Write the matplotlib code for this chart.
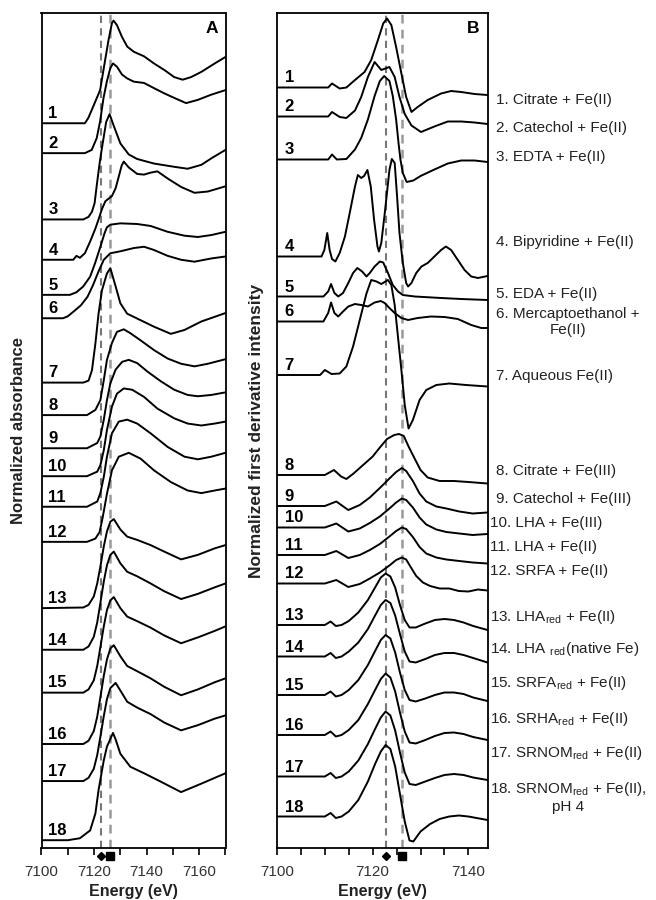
import matplotlib
matplotlib.use('Agg')
import matplotlib.pyplot as plt
from matplotlib.ticker import MultipleLocator

plt.rcParams['font.family'] = ['Liberation Sans', 'DejaVu Sans']
plt.rcParams['mathtext.fontset'] = 'custom'
plt.rcParams['mathtext.rm'] = 'Liberation Sans'
plt.rcParams['mathtext.it'] = 'Liberation Sans:italic'

# ---- panel A: normalized absorbance ----
A1_E = [7100, 7110, 7116.5, 7117.8, 7119.7, 7122.3, 7124.2, 7125.5, 7126.8, 7127.4, 7128.7, 7130.6,
        7132.6, 7135.1, 7139, 7142.8, 7146.7, 7150.5, 7153.7, 7156.9, 7160.8, 7165.9, 7170]
A1_Y = [0, 0, 0, 0.08, 0.26, 0.51, 0.97, 1.28, 1.54, 1.58, 1.51, 1.33,
        1.18, 1.10, 1.03, 0.92, 0.82, 0.71, 0.67, 0.71, 0.79, 0.92, 1.02]
A2_E = [7100, 7110, 7116.5, 7119.1, 7121, 7122.3, 7123.6, 7124.9, 7126.2, 7127.2, 7128.7, 7130.6,
        7132.6, 7135.1, 7139, 7142.8, 7146.7, 7150.5, 7155, 7159.5, 7164.6, 7170]
A2_Y = [0, 0, 0, 0.05, 0.23, 0.49, 0.85, 1.11, 1.31, 1.38, 1.33, 1.21,
        1.15, 1.10, 1.08, 1.00, 0.92, 0.85, 0.77, 0.82, 0.90, 0.97]
A3_E = [7100, 7110, 7115.9, 7117.9, 7119.2, 7120.2, 7121.1, 7122.1, 7122.8, 7123.6, 7124.6, 7125.9,
        7127.4, 7130, 7133.2, 7136.4, 7142.8, 7150.5, 7155.6, 7160.8, 7165, 7170]
A3_Y = [0, 0, 0, 0.04, 0.12, 0.25, 0.55, 0.86, 1.05, 1.25, 1.5, 1.62,
        1.45, 1.17, 1.0, 0.93, 0.86, 0.81, 0.78, 0.84, 0.95, 1.07]
A4_E = [7100, 7112.1, 7113.3, 7114.6, 7116.5, 7118.5, 7120.5, 7121.7, 7123, 7124.3, 7124.9, 7126.8,
        7128.2, 7129.4, 7130.5, 7131.3, 7133.2, 7136.4, 7139, 7141.5, 7144.1, 7148, 7153.1, 7158.2,
        7163.3, 7170]
A4_Y = [0, 0, 0.06, 0.03, 0.1, 0.28, 0.48, 0.62, 0.78, 0.9, 0.92, 0.98,
        1.1, 1.28, 1.45, 1.51, 1.42, 1.32, 1.31, 1.34, 1.36, 1.25, 1.12, 1.03,
        1.05, 1.13]
A5_E = [7100, 7110.8, 7113.3, 7115.9, 7118.5, 7120.4, 7122.4, 7124, 7124.9, 7126.2, 7130, 7136.4,
        7141.5, 7148, 7154.4, 7159.5, 7164.6, 7170]
A5_Y = [0, 0, 0.04, 0.13, 0.28, 0.49, 0.74, 0.95, 1.04, 1.08, 1.1, 1.09,
        1.06, 0.97, 0.91, 0.89, 0.92, 0.97]
A6_E = [7100, 7108.2, 7110, 7111.5, 7113, 7115, 7117.5, 7119.5, 7121.7, 7123.7, 7126.2, 7130,
        7135.1, 7139, 7142.8, 7148, 7153.1, 7158.2, 7164.6, 7170]
A6_Y = [0, 0, 0.03, 0.08, 0.13, 0.2, 0.33, 0.5, 0.72, 0.9, 1.0, 1.03,
        1.08, 1.10, 1.05, 0.96, 0.9, 0.87, 0.92, 0.95]
A7_E = [7100, 7115.9, 7117.9, 7119.2, 7120.5, 7121.7, 7123, 7124.9, 7126.2, 7127.2, 7128.2, 7130,
        7132.6, 7137.7, 7142.8, 7149.2, 7154.4, 7160.8, 7170]
A7_Y = [0, 0, 0.03, 0.19, 0.6, 1.06, 1.42, 1.68, 1.76, 1.62, 1.48, 1.22,
        1.06, 0.96, 0.86, 0.75, 0.81, 0.94, 1.07]
A8_E = [7100, 7117.3, 7120.5, 7122.4, 7123.7, 7124.9, 7126.8, 7128.7, 7131.3, 7133.8, 7137.7, 7142.8,
        7148, 7153.1, 7158.2, 7163.3, 7170]
A8_Y = [0, 0, 0.08, 0.23, 0.54, 0.85, 1.11, 1.28, 1.32, 1.26, 1.15, 1.0,
        0.87, 0.79, 0.75, 0.79, 0.86]
A9_E = [7100, 7117.3, 7121.2, 7122.4, 7123.7, 7124.9, 7126.2, 7128.2, 7130.7, 7133.2, 7136.4, 7140.3,
        7145.4, 7150.5, 7155.6, 7159.5, 7164.6, 7170]
A9_Y = [0, 0, 0.08, 0.18, 0.44, 0.74, 1.0, 1.21, 1.33, 1.36, 1.31, 1.18,
        1.03, 0.90, 0.82, 0.80, 0.82, 0.86]
A10_E = [7100, 7117.3, 7121.2, 7122.4, 7123.7, 7124.9, 7126.8, 7128.7, 7131.3, 7134.5, 7139, 7144.1,
         7150.5, 7155.6, 7160.8, 7165.9, 7170]
A10_Y = [0, 0, 0.07, 0.17, 0.4, 0.71, 1.07, 1.27, 1.35, 1.33, 1.22, 1.04,
         0.89, 0.81, 0.78, 0.81, 0.84]
A11_E = [7100, 7117.3, 7121.2, 7122.4, 7123.7, 7124.9, 7126.8, 7129.4, 7132.6, 7136.4, 7141.5, 7148,
         7154.4, 7159.5, 7164.6, 7170]
A11_Y = [0, 0, 0.08, 0.21, 0.46, 0.77, 1.13, 1.31, 1.34, 1.28, 1.13, 0.92,
         0.77, 0.73, 0.77, 0.83]
A12_E = [7100, 7117.3, 7120.5, 7122.1, 7123.3, 7124.9, 7126.8, 7129.4, 7133.2, 7137.7, 7142.8, 7149.2,
         7155.6, 7160.8, 7165.9, 7170]
A12_Y = [0, 0, 0.05, 0.15, 0.38, 0.74, 1.10, 1.31, 1.37, 1.28, 1.10, 0.92,
         0.79, 0.75, 0.79, 0.82]
A13_E = [7100, 7115.9, 7117.9, 7119.9, 7121.2, 7122.4, 7123.7, 7124.9, 7126.2, 7127.5, 7130, 7132.6,
         7136.4, 7141.5, 7146.7, 7153.1, 7159.5, 7165.9, 7170]
A13_Y = [0, 0.01, 0.05, 0.18, 0.38, 0.64, 0.95, 1.18, 1.33, 1.37, 1.21, 1.10,
         1.05, 0.97, 0.87, 0.75, 0.82, 0.92, 0.97]
A14_E = A13_E
A14_Y = [0, 0, 0.05, 0.2, 0.42, 0.72, 1.05, 1.3, 1.46, 1.51, 1.33, 1.2,
         1.13, 1.02, 0.9, 0.78, 0.86, 0.96, 1.02]
A15_E = A13_E
A15_Y = [0, 0, 0.05, 0.19, 0.41, 0.7, 1.02, 1.27, 1.42, 1.47, 1.3, 1.17,
         1.1, 1.0, 0.88, 0.76, 0.85, 0.95, 1.02]
A16_E = A13_E
A16_Y = [0, 0, 0.05, 0.2, 0.42, 0.72, 1.05, 1.3, 1.47, 1.52, 1.35, 1.2,
         1.12, 1.01, 0.88, 0.75, 0.84, 0.95, 1.01]
A17_E = [7100, 7115.9, 7117.9, 7119.9, 7121.2, 7122.4, 7123.7, 7124.9, 7126.2, 7128.2, 7130.5, 7132.6,
         7136.4, 7141.5, 7146.7, 7153.1, 7159.5, 7165.9, 7170]
A17_Y = [0, 0, 0.05, 0.19, 0.4, 0.68, 1.0, 1.26, 1.43, 1.51, 1.36, 1.22,
         1.13, 1.03, 0.9, 0.78, 0.86, 0.96, 1.01]
A18_E = [7100, 7110, 7114.6, 7118.5, 7120.5, 7121.7, 7123.7, 7124.9, 7127.2, 7128.2, 7130, 7133.8,
         7139, 7145.4, 7153.1, 7160.8, 7170]
A18_Y = [0, 0, 0.03, 0.15, 0.41, 0.77, 1.23, 1.44, 1.65, 1.55, 1.33, 1.13,
         1.03, 0.9, 0.74, 0.87, 1.03]

# stacking offsets (absorbance units)
abs_offset = [11.15, 10.69, 9.67, 9.05, 8.51, 8.15, 7.16, 6.66, 6.15, 5.72, 5.25, 4.71,
              3.69, 3.05, 2.39, 1.60, 1.03, 0.12]

# ---- panel B: normalized first derivative ----
B1_E = [7100, 7110.7, 7111.5, 7113.1, 7114.5, 7116.3, 7118.3, 7119.7, 7121.1, 7122.2, 7123, 7123.9,
        7124.9, 7126, 7127, 7128.1, 7129.4, 7131.5, 7134.3, 7136.4, 7138.5, 7141.3, 7144]
B1_Y = [0, 0, 0.08, -0.02, 0.0, 0.15, 0.31, 0.55, 0.95, 1.28, 1.38, 1.25,
        0.81, 0.28, -0.19, -0.49, -0.39, -0.25, -0.12, -0.07, -0.09, -0.13, -0.15]
B2_E = [7100, 7110.7, 7111.5, 7113.1, 7114.5, 7116.3, 7117.6, 7119, 7120.4, 7121.8, 7123.5, 7124.6,
        7125.6, 7126.7, 7128.1, 7130.1, 7132.9, 7135.7, 7138.5, 7141.3, 7144]
B2_Y = [0, 0, 0.09, -0.01, -0.03, 0.12, 0.39, 0.79, 1.09, 0.93, 0.99, 0.79,
        0.39, 0.05, -0.18, -0.31, -0.2, -0.1, -0.1, -0.12, -0.15]
B3_E = [7100, 7110.7, 7111.5, 7112.5, 7114.5, 7116.3, 7117.6, 7119, 7120.4, 7121.5, 7122.4, 7123.5,
        7124.2, 7124.9, 7125.4, 7125.8, 7126.3, 7127.1, 7128.5, 7130, 7132.9, 7135.7, 7138.5, 7141.3, 7144]
B3_Y = [0, 0, 0.1, 0.0, 0.01, 0.2, 0.43, 0.8, 1.27, 1.57, 1.67, 1.57,
        1.27, 0.8, 0.33, 0.0, -0.27, -0.45, -0.42, -0.33, -0.2, -0.08, -0.02, -0.02, -0.05]
B4_E = [7100, 7109.3, 7109.9, 7110.5, 7111, 7111.5, 7112.2, 7113.1, 7114.2, 7115.2, 7116.3, 7116.9,
        7117.6, 7118.2, 7118.9, 7119.6, 7120.3, 7121, 7121.3, 7121.8, 7122.6, 7123.5, 7124, 7124.6,
        7125.1, 7125.6, 7126.3, 7127, 7127.4, 7128.1, 7129.1, 7130.2, 7131.5, 7132.9, 7134.3, 7135.3,
        7136.4, 7137.8, 7139.2, 7140.6, 7142, 7144]
B4_Y = [0, 0, 0.13, 0.47, 0.13, -0.05, -0.1, 0.07, 0.4, 0.87, 1.4, 1.63,
        1.57, 1.61, 1.73, 1.4, 0.73, 0.2, 0.1, 0.27, 0.93, 1.73, 1.95, 1.87,
        1.2, 0.47, -0.13, -0.53, -0.6, -0.53, -0.33, -0.2, -0.13, 0.0, 0.13, 0.2,
        0.13, -0.07, -0.27, -0.4, -0.43, -0.39]
B5_E = [7100, 7109.7, 7110.7, 7111.3, 7112, 7112.8, 7113.8, 7114.9, 7115.9, 7116.8, 7117.8, 7118.7,
        7119.4, 7120.4, 7121.5, 7122.2, 7123.2, 7124.2, 7125.3, 7126.3, 7128.8, 7134.3, 7138.5, 7144]
B5_Y = [0, 0, 0.1, 0.25, 0.07, 0, 0.07, 0.27, 0.47, 0.57, 0.5, 0.4,
        0.47, 0.6, 0.7, 0.68, 0.47, 0.23, 0.1, 0.03, 0, -0.03, -0.05, -0.07]
B6_E = [7100, 7109.7, 7110.7, 7111.3, 7112, 7112.8, 7113.8, 7114.9, 7116.3, 7117.6, 7119, 7120.4,
        7121.7, 7122.5, 7123.5, 7124.6, 7126, 7127.4, 7129.4, 7132.2, 7135, 7137.8, 7140.6, 7142.7, 7144]
B6_Y = [0, 0, 0.17, 0.38, 0.17, 0.1, 0.2, 0.3, 0.35, 0.33, 0.3, 0.38,
        0.41, 0.37, 0.27, 0.17, 0.07, 0.03, 0.07, 0.1, 0.09, 0.05, -0.07, -0.13, -0.13]
B7_E = [7100, 7109, 7110, 7111.4, 7113.1, 7114.5, 7115.9, 7117.3, 7118.7, 7119.7, 7120.8, 7121.8,
        7123.2, 7123.9, 7124.6, 7125.3, 7126, 7126.7, 7127.5, 7128.4, 7129.8, 7131.2, 7133.3, 7136,
        7139.5, 7144]
B7_Y = [0, 0, 0.1, 0.02, 0.03, 0.17, 0.57, 1.1, 1.63, 1.9, 1.87, 1.82,
        1.9, 1.8, 1.4, 0.75, 0.1, -0.6, -1.07, -0.9, -0.5, -0.3, -0.2, -0.17,
        -0.2, -0.23]
B8_E = [7100, 7110, 7111.9, 7113.4, 7114.5, 7116, 7118, 7120, 7121.5, 7123, 7124.5, 7125.5,
        7126.5, 7127.5, 7128.5, 7130, 7131.5, 7134, 7137, 7140, 7144]
B8_Y = [0, 0, 0.1, -0.03, -0.08, 0.03, 0.2, 0.37, 0.55, 0.72, 0.8, 0.82,
        0.78, 0.57, 0.38, 0.1, -0.05, -0.12, -0.12, -0.14, -0.17]
B9_E = [7100, 7110, 7112.4, 7114.9, 7117.3, 7119.4, 7121.5, 7123.5, 7124.9, 7126.1, 7127, 7128.4,
        7129.8, 7131.2, 7133.3, 7135.4, 7138.1, 7140.9, 7144]
B9_Y = [0, 0, 0.09, -0.08, 0.02, 0.17, 0.36, 0.55, 0.68, 0.76, 0.7, 0.5,
        0.25, 0.09, -0.01, -0.05, -0.11, -0.15, -0.13]
B10_E = B9_E
B10_Y = [0, 0, 0.08, -0.08, -0.02, 0.09, 0.22, 0.38, 0.5, 0.58, 0.55, 0.4,
         0.2, 0.06, -0.04, -0.09, -0.12, -0.15, -0.13]
B11_E = B9_E
B11_Y = [0, 0, 0.08, -0.06, 0.0, 0.1, 0.22, 0.37, 0.48, 0.55, 0.52, 0.36,
         0.16, 0.03, -0.05, -0.09, -0.12, -0.15, -0.17]
B12_E = [7100, 7110, 7112.4, 7114.9, 7117.3, 7119.4, 7121.5, 7123.5, 7124.9, 7126.1, 7127, 7128,
         7129.1, 7130.5, 7132, 7134, 7136, 7138, 7140, 7142, 7144]
B12_Y = [0, 0, 0.07, -0.07, -0.01, 0.1, 0.22, 0.36, 0.47, 0.52, 0.48, 0.32,
         0.15, 0.02, -0.05, -0.1, -0.1, -0.15, -0.16, -0.12, -0.14]
B13_E = [7100, 7110, 7111.2, 7112.3, 7113.5, 7115, 7117, 7119, 7120.5, 7121.7, 7122.7, 7123.7,
         7124.7, 7125.7, 7126.7, 7127.7, 7129, 7131, 7133, 7135, 7137, 7139, 7141, 7144]
B13_Y = [0, 0, 0.07, -0.02, 0.0, 0.08, 0.25, 0.5, 0.75, 0.95, 1.03, 0.97,
         0.75, 0.4, 0.1, -0.05, -0.05, 0.03, 0.1, 0.12, 0.1, 0.05, -0.02, -0.1]
B14_E = B13_E
B14_Y = [0, 0, 0.07, -0.03, 0.0, 0.1, 0.28, 0.55, 0.82, 1.03, 1.13, 1.07,
         0.82, 0.45, 0.1, -0.1, -0.12, -0.05, 0.03, 0.07, 0.07, 0.03, -0.03, -0.12]
B15_E = B13_E
B15_Y = [0, 0, 0.07, -0.03, 0.0, 0.1, 0.3, 0.6, 0.88, 1.1, 1.2, 1.13,
         0.85, 0.45, 0.1, -0.1, -0.13, -0.07, 0.0, 0.05, 0.05, 0.02, -0.05, -0.12]
B16_E = B13_E
B16_Y = [0, 0, 0.07, -0.03, 0.0, 0.1, 0.3, 0.62, 0.9, 1.12, 1.23, 1.15,
         0.87, 0.45, 0.07, -0.15, -0.17, -0.1, -0.02, 0.04, 0.05, 0.02, -0.04, -0.1]
B17_E = B13_E
B17_Y = [0, 0, 0.07, -0.03, 0.0, 0.1, 0.32, 0.65, 0.95, 1.18, 1.3, 1.22,
         0.92, 0.48, 0.08, -0.15, -0.17, -0.1, -0.03, 0.03, 0.05, 0.03, -0.02, -0.07]
B18_E = [7100, 7110, 7111.2, 7112.3, 7113.5, 7115, 7117, 7119, 7120.5, 7121.7, 7122.7, 7123.7,
         7124.7, 7125.7, 7126.7, 7127.7, 7128.5, 7130, 7132, 7134, 7136, 7138, 7140, 7144]
B18_Y = [0, 0, 0.07, -0.03, 0.0, 0.1, 0.33, 0.7, 1.05, 1.3, 1.43, 1.35,
         1.0, 0.45, -0.1, -0.48, -0.5, -0.3, -0.15, -0.05, 0.0, 0.02, 0.0, -0.07]

deriv_offset = [15.21, 14.63, 13.77, 11.83, 11.03, 10.53, 9.46, 7.46, 6.84, 6.41, 5.86, 5.29,
                4.46, 3.83, 3.06, 2.26, 1.43, 0.63]

sample_names = [
    '1. Citrate + Fe(II)', '2. Catechol + Fe(II)', '3. EDTA + Fe(II)',
    '4. Bipyridine + Fe(II)', '5. EDA + Fe(II)', '6. Mercaptoethanol +\nFe(II)',
    '7. Aqueous Fe(II)', '8. Citrate + Fe(III)', '9. Catechol + Fe(III)',
    '10. LHA + Fe(III)', '11. LHA + Fe(II)', '12. SRFA + Fe(II)',
    '13. LHA$_{\\rm red}$ + Fe(II)', '14. LHA $_{\\rm red}$(native Fe)',
    '15. SRFA$_{\\rm red}$ + Fe(II)', '16. SRHA$_{\\rm red}$ + Fe(II)',
    '17. SRNOM$_{\\rm red}$ + Fe(II)', '18. SRNOM$_{\\rm red}$ + Fe(II),\npH 4']
# label centres on the page (pixels from top)
name_px = [100, 128, 157, 242, 294, 322, 376, 471, 499, 523, 547, 571, 617, 649, 683, 719, 753, 797]

edge_fe2 = 7122.7   # diamond
edge_fe3 = 7126.1   # square

abs_E = [A1_E, A2_E, A3_E, A4_E, A5_E, A6_E, A7_E, A8_E, A9_E, A10_E, A11_E, A12_E,
         A13_E, A14_E, A15_E, A16_E, A17_E, A18_E]
abs_Y = [A1_Y, A2_Y, A3_Y, A4_Y, A5_Y, A6_Y, A7_Y, A8_Y, A9_Y, A10_Y, A11_Y, A12_Y,
         A13_Y, A14_Y, A15_Y, A16_Y, A17_Y, A18_Y]
der_E = [B1_E, B2_E, B3_E, B4_E, B5_E, B6_E, B7_E, B8_E, B9_E, B10_E, B11_E, B12_E,
         B13_E, B14_E, B15_E, B16_E, B17_E, B18_E]
der_Y = [B1_Y, B2_Y, B3_Y, B4_Y, B5_Y, B6_Y, B7_Y, B8_Y, B9_Y, B10_Y, B11_Y, B12_Y,
         B13_Y, B14_Y, B15_Y, B16_Y, B17_Y, B18_Y]

W, H = 656, 900
fig = plt.figure(figsize=(W / 100, H / 100), dpi=100)
ax_a = fig.add_axes([41.5 / W, 1 - 848 / H, 184 / W, 835 / H])
ax_b = fig.add_axes([277 / W, 1 - 848 / H, 210.5 / W, 835 / H])

ax_a.set_xlim(7100, 7170)
ax_a.set_ylim(0, 835 / 65)
ax_b.set_xlim(7100, 7144)
ax_b.set_ylim(0, 835 / 50)

# dashed edge positions
for ax in (ax_a, ax_b):
    ax.axvline(edge_fe2, color='#777777', lw=1.5, dashes=(3.5, 2.5), zorder=1)
    ax.axvline(edge_fe3, color='#999999', lw=1.8, dashes=(3.5, 2.5), zorder=1)

for i in range(18):
    ax_a.plot(abs_E[i], [v + abs_offset[i] for v in abs_Y[i]], color='k', lw=1.4, zorder=3)
    ax_a.text(7102.6, abs_offset[i] + 0.08, str(i + 1), fontsize=12, fontweight='bold',
              va='baseline', ha='left', zorder=4)
    ax_b.plot(der_E[i], [v + deriv_offset[i] for v in der_Y[i]], color='k', lw=1.4, zorder=3)
    ax_b.text(7101.6, deriv_offset[i] + 0.1, str(i + 1), fontsize=12, fontweight='bold',
              va='baseline', ha='left', zorder=4)
    x_px = 496 if i < 9 else 490
    fig.text(x_px / W, 1 - name_px[i] / H, sample_names[i], fontsize=11, ha='left',
             va='center', multialignment='center', color='#222222')

ax_a.text(0.96, 0.99, 'A', transform=ax_a.transAxes, ha='right', va='top',
          fontsize=12.5, fontweight='bold')
ax_b.text(0.96, 0.99, 'B', transform=ax_b.transAxes, ha='right', va='top',
          fontsize=12.5, fontweight='bold')

ax_a.xaxis.set_major_locator(MultipleLocator(20))
ax_a.xaxis.set_minor_locator(MultipleLocator(10))
ax_b.xaxis.set_major_locator(MultipleLocator(20))
ax_b.xaxis.set_minor_locator(MultipleLocator(5))

for ax in (ax_a, ax_b):
    ax.set_yticks([])
    ax.tick_params(axis='x', which='both', direction='out', length=5, width=1.2, pad=7,
                   labelsize=11, labelcolor='#333333')
    for s in ax.spines.values():
        s.set_linewidth(1.3)
    ax.set_xlabel('Energy (eV)', fontsize=11.5, fontweight='bold', color='#222222')
    ax.xaxis.set_label_coords(0.5, -0.043)
    # edge markers under the axis
    tr = ax.get_xaxis_transform()
    ax.plot([edge_fe2], [-0.0095], marker='D', ms=4.5, color='k', transform=tr, clip_on=False)
    ax.plot([edge_fe3], [-0.0095], marker='s', ms=5.5, color='k', transform=tr, clip_on=False)

ax_a.set_ylabel('Normalized absorbance', fontsize=12, fontweight='bold', color='#222222')
ax_a.yaxis.set_label_coords(-(41.5 - 26) / 184, 0.5)
ax_b.set_ylabel('Normalized first derivative intensity', fontsize=12.5, fontweight='bold',
                color='#222222')
ax_b.yaxis.set_label_coords(-(277 - 264) / 210.5, 0.5)

fig.savefig('out.png', dpi=100)
